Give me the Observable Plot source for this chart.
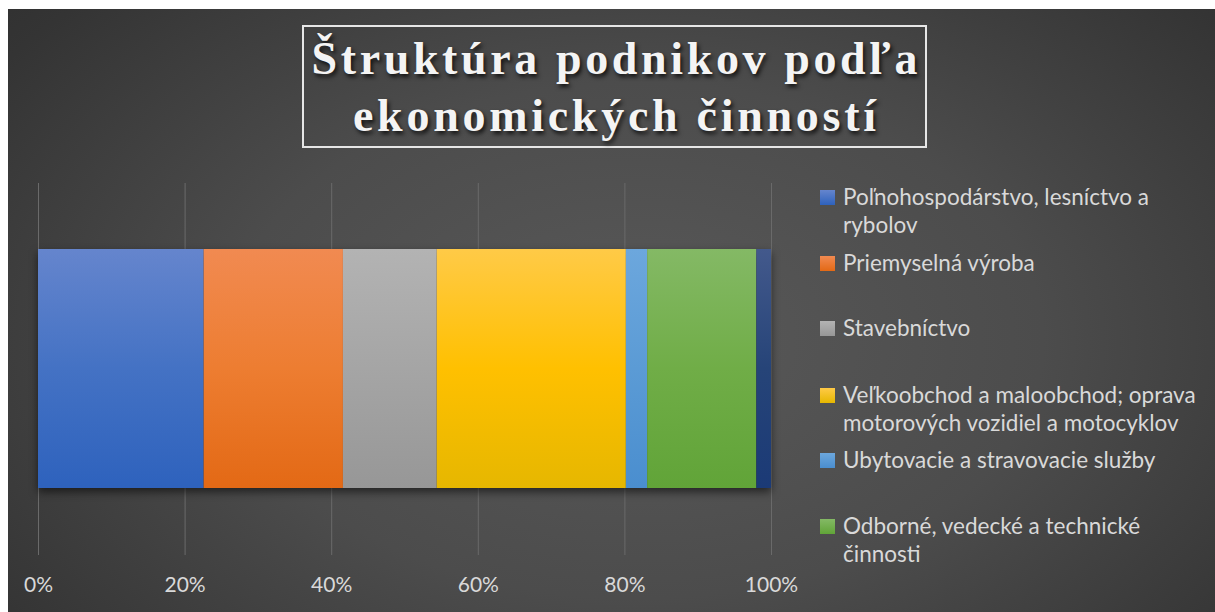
<!DOCTYPE html>
<html>
<head>
<meta charset="utf-8">
<script src="https://cdn.jsdelivr.net/npm/d3@7"></script>
<script src="https://cdn.jsdelivr.net/npm/@observablehq/plot@0.6"></script>
<style>
  html, body { margin: 0; padding: 0; background: #ffffff; }
  #frame { position: absolute; left: 8px; top: 9px; width: 1207px; height: 603px; overflow: hidden;
    background: radial-gradient(ellipse 75% 95% at 52% 55%, #595959 0%, #4c4c4c 45%, #343434 85%, #2e2e2e 100%); }
  #chart { position: absolute; left: -8px; top: -9px; }
  #title { position: absolute; left: 294px; top: 16px; width: 621px; height: 119px; border: 2px solid #e6e6e6;
    box-sizing: content-box; color: #f4f4f4; font-family: "Liberation Serif", serif;
    font-weight: bold; font-size: 46px; text-shadow: 2px 3px 4px rgba(0,0,0,0.75); }
  .tline { position: absolute; left: 0; width: 621px; text-align: center; white-space: nowrap; line-height: 46px; }
  .tline span { display: inline-block; }
  #legend { position: absolute; left: 0; top: 0; font-family: Lato, "Open Sans", sans-serif; font-size: 22.5px; color: #d9d9d9; }
  .item { position: absolute; left: 835px; width: 370px; line-height: 28px; }
  .sw { position: absolute; left: -23px; top: 7px; width: 15px; height: 15px; }
  .lab { position: absolute; left: 0; top: 0; white-space: nowrap; }
</style>
</head>
<body>
<div id="frame">
  <div id="chart"></div>
  <div id="title"></div>
  <div id="legend"></div>
</div>
<script>
// Data
const titleLines = ["Štruktúra podnikov podľa", "ekonomických činností"];
const categories = [
  "Poľnohospodárstvo, lesníctvo a rybolov",
  "Priemyselná výroba",
  "Stavebníctvo",
  "Veľkoobchod a maloobchod; oprava motorových vozidiel a motocyklov",
  "Ubytovacie a stravovacie služby",
  "Odborné, vedecké a technické činnosti",
  "Ostatné"
];
const shares = [22.6, 19.0, 12.8, 25.8, 2.9, 14.9, 2.0];
const legendLines = [
  ["Poľnohospodárstvo, lesníctvo a", "rybolov"],
  ["Priemyselná výroba"],
  ["Stavebníctvo"],
  ["Veľkoobchod a maloobchod; oprava", "motorových vozidiel a motocyklov"],
  ["Ubytovacie a stravovacie služby"],
  ["Odborné, vedecké a technické", "činnosti"]
];
const baseColors = ["#4472C4", "#ED7D31", "#A5A5A5", "#FFC000", "#5B9BD5", "#70AD47", "#264478"];
const topColors = ["#6585cd", "#f18a51", "#b3b3b3", "#ffca47", "#6ca7dd", "#84b965", "#43598c"];
const bottomColors = ["#2e62bd", "#e36915", "#979797", "#e6b700", "#4a8ecf", "#61a438", "#1b3a76"];
const xTicks = [0, 20, 40, 60, 80, 100];
const rowName = "Podniky";

const total = d3.sum(shares);
const table = categories.map((c, i) => ({category: c, row: rowName, value: shares[i] / total * 100, order: i}));

const plot = Plot.plot({
  width: 1215,
  height: 612,
  marginLeft: 38,
  marginRight: 444,
  marginTop: 183,
  marginBottom: 57,
  style: {background: "transparent", color: "#d9d9d9", fontFamily: "Lato, 'Open Sans', sans-serif", fontSize: "21px"},
  x: {domain: [0, 100], ticks: xTicks, tickFormat: d => d + "%", label: null},
  y: {domain: [rowName], padding: 0.216, axis: null},
  color: {domain: categories, range: categories.map((c, i) => `url(#grad${i})`)},
  marks: [
    Plot.gridX(xTicks, {stroke: "#6a6a6a", strokeOpacity: 1, strokeWidth: 1}),
    Plot.axisX(xTicks, {tickSize: 0, tickPadding: 22, fontSize: 21, fill: "#d9d9d9", tickFormat: d => d + "%", label: null}),
    Plot.barX(table, Plot.stackX({x: "value", y: "row", fill: "category", order: "order", inset: 0}))
  ]
});

// gradient definitions for bar fills
const ns = "http://www.w3.org/2000/svg";
const defs = document.createElementNS(ns, "defs");
categories.forEach((c, i) => {
  const g = document.createElementNS(ns, "linearGradient");
  g.setAttribute("id", "grad" + i);
  g.setAttribute("x1", "0"); g.setAttribute("y1", "0"); g.setAttribute("x2", "0"); g.setAttribute("y2", "1");
  [[0, topColors[i]], [0.5, baseColors[i]], [1, bottomColors[i]]].forEach(([o, col]) => {
    const s = document.createElementNS(ns, "stop");
    s.setAttribute("offset", o); s.setAttribute("stop-color", col);
    g.appendChild(s);
  });
  defs.appendChild(g);
});
plot.insertBefore(defs, plot.firstChild);
plot.querySelectorAll("g[aria-label='bar']").forEach(g => g.setAttribute("filter", "drop-shadow(0px 4px 4px rgba(0,0,0,0.55))"));
document.getElementById("chart").appendChild(plot);

// title: fit each line to the reference widths via letter-spacing
const titleEl = document.getElementById("title");
const targetWidths = [606, 523];
const lineTops = [9, 66];
titleLines.forEach((t, k) => {
  const line = document.createElement("div");
  line.className = "tline";
  line.style.top = lineTops[k] + "px";
  const span = document.createElement("span");
  span.textContent = t;
  line.appendChild(span);
  titleEl.appendChild(line);
  const w = span.getBoundingClientRect().width;
  const n = t.length;
  const ls = (targetWidths[k] - w) / (n - 1);
  if (ls >= 0) { span.style.letterSpacing = ls + "px"; span.style.marginRight = (-ls) + "px"; }
  else { span.style.transform = `scaleX(${targetWidths[k] / w})`; }
});

// legend (HTML), positions relative to frame (frame offset 8,9)
const legendTops = [174, 240, 305, 372, 437, 503];
const legend = document.getElementById("legend");
legendLines.forEach((lines, i) => {
  const item = document.createElement("div");
  item.className = "item";
  item.style.top = legendTops[i] + "px";
  const sw = document.createElement("div");
  sw.className = "sw";
  sw.style.background = `linear-gradient(${topColors[i]}, ${bottomColors[i]})`;
  item.appendChild(sw);
  lines.forEach((t, k) => {
    const l = document.createElement("div");
    l.className = "lab";
    l.style.top = (k * 28) + "px";
    l.textContent = t;
    item.appendChild(l);
  });
  legend.appendChild(item);
});
</script>
</body>
</html>
